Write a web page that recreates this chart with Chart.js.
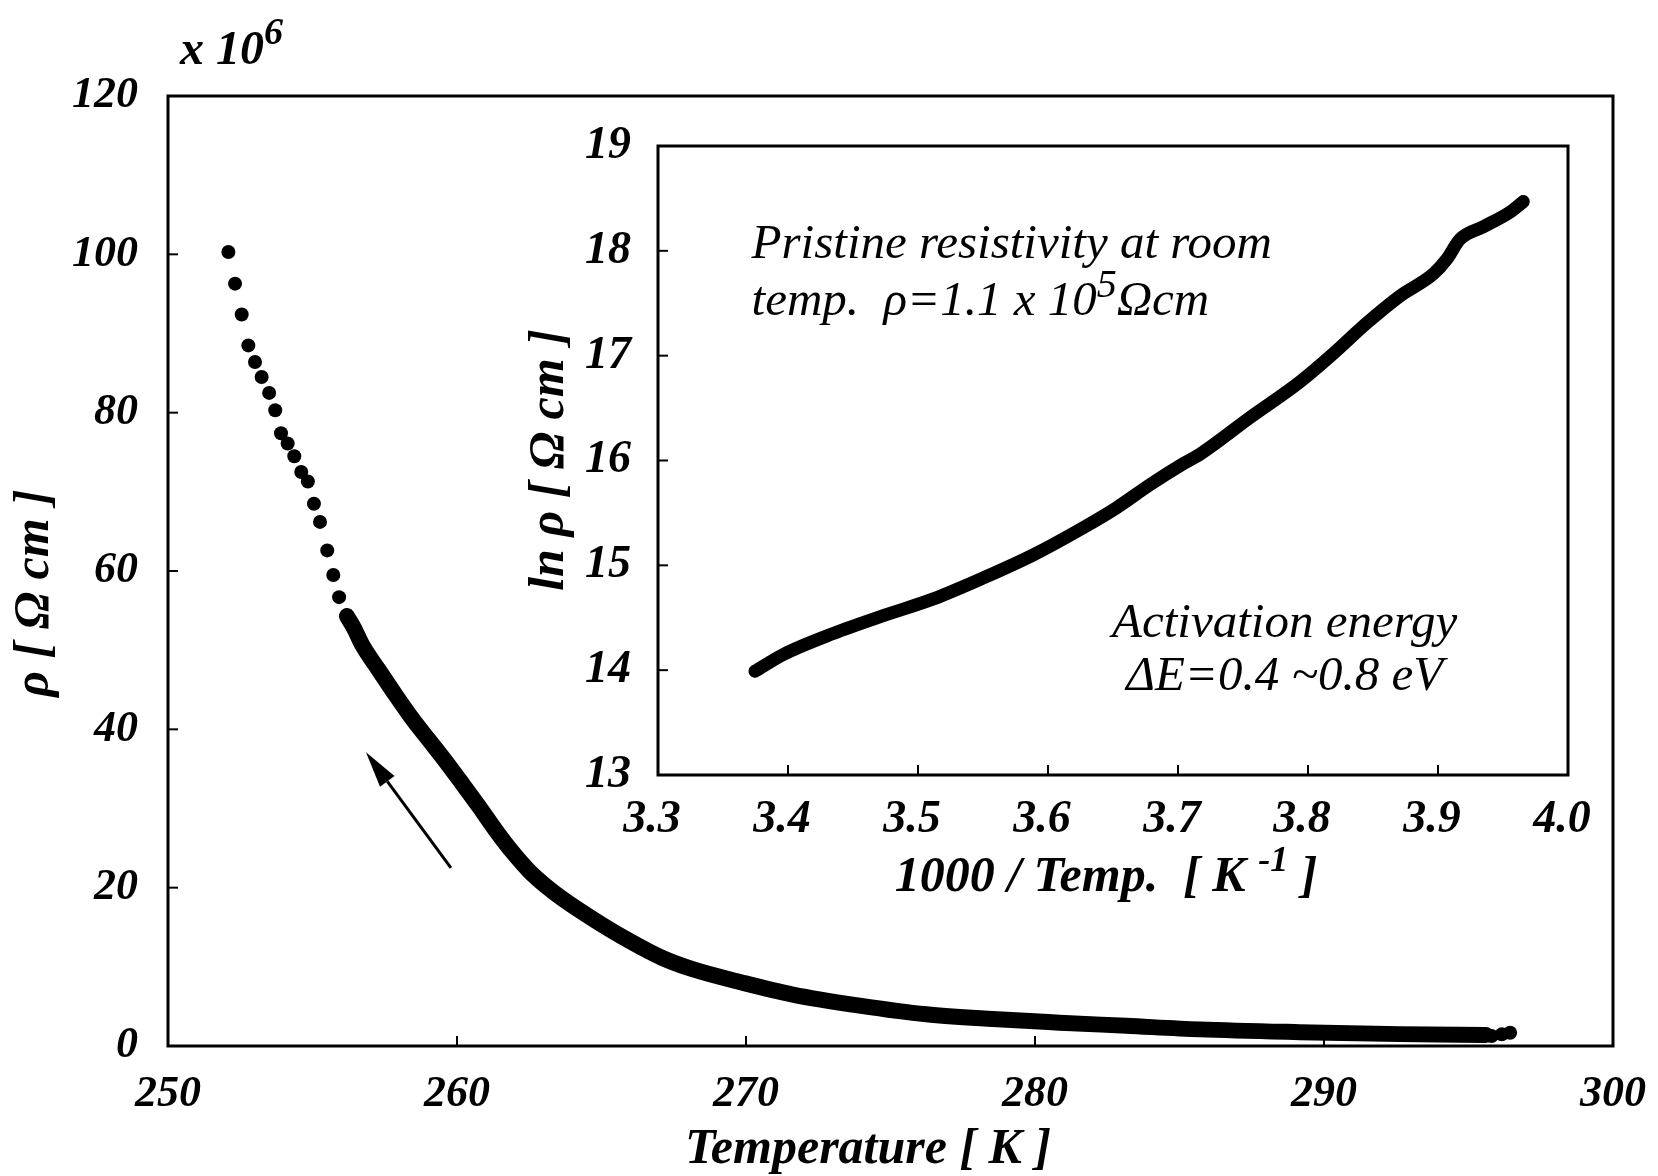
<!DOCTYPE html>
<html>
<head>
<meta charset="utf-8">
<script src="https://cdn.jsdelivr.net/npm/chart.js"></script>
<style>
  html, body { margin: 0; background: #fff; overflow: hidden; }
  #wrap { position: relative; width: 1658px; height: 1176px; overflow: hidden; }
  #mainChart { position: absolute; left: 0; top: 0; }
  #insetChart { position: absolute; left: 520px; top: 78px; }
</style>
</head>
<body>
<div id="wrap">
  <canvas id="mainChart" width="1700" height="1176"></canvas>
  <canvas id="insetChart" width="1117" height="832"></canvas>
</div>
<script>
// main plot: rho (x 10^6 ohm cm) against temperature
const dotTemp = [252.09, 252.32, 252.55, 252.78, 253.01, 253.24, 253.50, 253.71, 253.91, 254.14,
                 254.37, 254.61, 254.84, 255.05, 255.26, 255.51, 255.72, 255.92, 256.19,
                 295.80, 296.15, 296.44];
const dotRho = [100.3, 96.3, 92.4, 88.5, 86.4, 84.5, 82.5, 80.3, 77.4, 76.1,
                74.5, 72.5, 71.3, 68.5, 66.2, 62.6, 59.5, 56.7, 54.3,
                1.26, 1.47, 1.68];
// dense part of the run, where the dots merge into a band
const bandTemp = [256.19, 256.42, 256.73, 257.31, 257.88, 258.46, 259.04, 259.62, 260.19, 260.77,
                  261.35, 261.92, 262.50, 263.08, 263.65, 264.81, 265.96, 267.12, 268.15, 269.88,
                  271.62, 273.93, 276.24, 278.54, 280.85, 283.16, 285.70, 289.16, 292.62, 295.60];
const bandRho = [54.3, 52.9, 50.6, 47.4, 44.3, 41.3, 38.6, 35.9, 33.1, 30.2,
                 27.2, 24.5, 22.1, 20.2, 18.6, 15.8, 13.3, 11.1, 9.7, 8.0,
                 6.5, 5.1, 4.0, 3.4, 2.95, 2.55, 2.1, 1.75, 1.5, 1.4];
const mainXTicks = [250, 260, 270, 280, 290, 300];
const mainYTicks = [0, 20, 40, 60, 80, 100, 120];
// arrow: tail -> head, in data units
const arrowTemp = [259.79, 256.85];
const arrowRho = [22.5, 37.1];

// inset: ln rho against 1000/T
const invTemp = [3.3746, 3.3964, 3.4348, 3.4733, 3.5118, 3.5502, 3.5887, 3.6272, 3.6528, 3.6785,
                 3.7041, 3.7169, 3.7554, 3.7938, 3.8195, 3.8451, 3.8708, 3.8964, 3.9067, 3.9169,
                 3.9349, 3.9554, 3.9656];
const lnRho = [13.99, 14.15, 14.35, 14.52, 14.68, 14.88, 15.10, 15.36, 15.55, 15.77,
               15.97, 16.06, 16.41, 16.75, 17.02, 17.31, 17.57, 17.78, 17.92, 18.11,
               18.23, 18.37, 18.47];
const insetXTicks = [3.3, 3.4, 3.5, 3.6, 3.7, 3.8, 3.9, 4.0];
const insetXLabels = ['3.3', '3.4', '3.5', '3.6', '3.7', '3.8', '3.9', '4.0'];
const insetYTicks = [13, 14, 15, 16, 17, 18, 19];

const serif = '"Liberation Serif", "Times New Roman", serif';
const mainTickFont = { family: serif, size: 44, style: 'italic', weight: 'bold' };
const insetTickFont = { family: serif, size: 46, style: 'italic', weight: 'bold' };
const titleFont = 'italic bold 50px ' + serif;
const noteFont = 'italic 49px ' + serif;

function pts(xs, ys) {
    return xs.map((x, i) => ({ x: x, y: ys[i] }));
}

// draws a row of text pieces; raised pieces use 'rise'
function drawRun(ctx, pieces, x, y, align) {
    let total = 0;
    pieces.forEach(p => { ctx.font = p.font; total += ctx.measureText(p.text).width; });
    let cx = align === 'center' ? x - total / 2 : (align === 'right' ? x - total : x);
    ctx.textAlign = 'left';
    ctx.textBaseline = 'alphabetic';
    pieces.forEach(p => {
        ctx.font = p.font;
        ctx.fillText(p.text, cx, y - (p.rise || 0));
        cx += ctx.measureText(p.text).width;
    });
}

// box around the plot area with the small inward tick marks
function boxPlugin(xTicks, yTicks, tickLen) {
    return {
        id: 'box',
        beforeDatasetsDraw(chart) {
            const ctx = chart.ctx;
            const a = chart.chartArea;
            const xs = chart.scales.x, ys = chart.scales.y;
            ctx.save();
            ctx.strokeStyle = '#000';
            ctx.lineWidth = 3;
            ctx.strokeRect(a.left, a.top, a.right - a.left, a.bottom - a.top);
            ctx.lineWidth = 2;
            xTicks.forEach(v => {
                const px = xs.getPixelForValue(v);
                ctx.beginPath();
                ctx.moveTo(px, a.bottom);
                ctx.lineTo(px, a.bottom - tickLen);
                ctx.stroke();
            });
            yTicks.forEach(v => {
                const py = ys.getPixelForValue(v);
                ctx.beginPath();
                ctx.moveTo(a.left, py);
                ctx.lineTo(a.left + tickLen, py);
                ctx.stroke();
            });
            ctx.restore();
        }
    };
}

const mainText = {
    id: 'mainText',
    afterDraw(chart) {
        const ctx = chart.ctx;
        const xs = chart.scales.x, ys = chart.scales.y;
        ctx.save();
        ctx.fillStyle = '#000';
        ctx.strokeStyle = '#000';

        // arrow
        const x0 = xs.getPixelForValue(arrowTemp[0]), y0 = ys.getPixelForValue(arrowRho[0]);
        const x1 = xs.getPixelForValue(arrowTemp[1]), y1 = ys.getPixelForValue(arrowRho[1]);
        const ang = Math.atan2(y1 - y0, x1 - x0);
        const headLen = 36, headHalf = 9;
        const bx = x1 - headLen * Math.cos(ang), by = y1 - headLen * Math.sin(ang);
        ctx.lineWidth = 3;
        ctx.beginPath();
        ctx.moveTo(x0, y0);
        ctx.lineTo(bx, by);
        ctx.stroke();
        ctx.beginPath();
        ctx.moveTo(x1, y1);
        ctx.lineTo(bx + headHalf * Math.sin(ang), by - headHalf * Math.cos(ang));
        ctx.lineTo(bx - headHalf * Math.sin(ang), by + headHalf * Math.cos(ang));
        ctx.closePath();
        ctx.fill();

        // multiplier above the y axis
        drawRun(ctx, [
            { text: 'x 10', font: 'italic bold 48px ' + serif },
            { text: '6', font: 'italic bold 38px ' + serif, rise: 20 }
        ], 180, 64, 'left');

        // axis titles
        drawRun(ctx, [{ text: 'Temperature [ K ]', font: titleFont }], 868, 1163, 'center');
        ctx.translate(48, 593);
        ctx.rotate(-Math.PI / 2);
        drawRun(ctx, [{ text: 'ρ [ Ω cm ]', font: titleFont }], 0, 0, 'center');
        ctx.restore();
    }
};

// inset canvas sits at page (520, 78); text positions below are canvas-local
const insetText = {
    id: 'insetText',
    afterDraw(chart) {
        const ctx = chart.ctx;
        const xs = chart.scales.x, ys = chart.scales.y;
        ctx.save();
        ctx.fillStyle = '#000';

        const lx = xs.getPixelForValue(3.372);
        drawRun(ctx, [{ text: 'Pristine resistivity at room', font: noteFont }],
            lx, ys.getPixelForValue(17.93), 'left');
        drawRun(ctx, [
            { text: 'temp.  ρ=1.1 x 10', font: noteFont },
            { text: '5', font: 'italic 40px ' + serif, rise: 18 },
            { text: 'Ωcm', font: noteFont }
        ], lx, ys.getPixelForValue(17.39), 'left');

        const cx = xs.getPixelForValue(3.782);
        drawRun(ctx, [{ text: 'Activation energy', font: noteFont }], cx, ys.getPixelForValue(14.32), 'center');
        drawRun(ctx, [{ text: 'ΔE=0.4 ~0.8 eV', font: noteFont }], cx, ys.getPixelForValue(13.81), 'center');

        // axis titles
        drawRun(ctx, [
            { text: '1000 / Temp.  [ K ', font: titleFont },
            { text: '-1', font: 'italic bold 36px ' + serif, rise: 20 },
            { text: ' ]', font: titleFont }
        ], 586, 813, 'center');
        ctx.translate(43, 382);
        ctx.rotate(-Math.PI / 2);
        drawRun(ctx, [{ text: 'ln ρ [ Ω cm ]', font: titleFont }], 0, 0, 'center');
        ctx.restore();
    }
};

function axis(min, max, tickValues, labels, fit, key, font, padding, labelOffset) {
    return {
        type: 'linear',
        min: min,
        max: max,
        afterBuildTicks: s => { s.ticks = tickValues.map(v => ({ value: v })); },
        afterFit: s => { if (key === 'x') { s.height = fit.x; } else { s.width = fit.y; } },
        grid: { display: false, drawTicks: false },
        border: { display: false },
        ticks: {
            color: '#000',
            font: font,
            padding: padding,
            labelOffset: labelOffset || 0,
            autoSkip: false,
            maxRotation: 0,
            callback: (v, i) => labels ? labels[i] : String(v)
        }
    };
}

// nudge paddings until the plot area sits where it does in the figure
function placeArea(chart, target, pad, fit) {
    for (let k = 0; k < 4; k++) {
        const a = chart.chartArea;
        const dl = target.left - a.left, dt = target.top - a.top;
        const dr = a.right - target.right, db = a.bottom - target.bottom;
        if (Math.abs(dl) + Math.abs(dt) + Math.abs(dr) + Math.abs(db) < 0.5) break;
        fit.y += dl;
        fit.x += db;
        pad.top += dt;
        pad.right += dr;
        chart.update();
    }
}

const mainPad = { top: 96, right: 87, left: 0, bottom: 0 };
const mainFit = { x: 130, y: 168 };
const mainChart = new Chart(document.getElementById('mainChart'), {
    type: 'scatter',
    data: {
        datasets: [
            {
                data: pts(bandTemp, bandRho),
                showLine: true,
                borderColor: '#000',
                borderWidth: 16,
                borderCapStyle: 'round',
                borderJoinStyle: 'round',
                cubicInterpolationMode: 'monotone',
                pointRadius: 0,
                clip: false
            },
            {
                data: pts(dotTemp, dotRho),
                showLine: false,
                pointRadius: 7,
                pointBackgroundColor: '#000',
                pointBorderWidth: 0,
                clip: false
            }
        ]
    },
    options: {
        responsive: false,
        animation: false,
        devicePixelRatio: 1,
        layout: { padding: mainPad },
        plugins: { legend: { display: false }, tooltip: { enabled: false } },
        scales: {
            x: axis(250, 300, mainXTicks, null, mainFit, 'x', mainTickFont, 22),
            y: axis(0, 120, mainYTicks, null, mainFit, 'y', mainTickFont, 30)
        }
    },
    plugins: [boxPlugin(mainXTicks.slice(1, -1), mainYTicks.slice(1, -1), 10), mainText]
});
placeArea(mainChart, { left: 168, top: 96, right: 1613, bottom: 1046 }, mainPad, mainFit);

const insetPad = { top: 68, right: 70, left: 0, bottom: 0 };
const insetFit = { x: 138, y: 138 };
const insetChart = new Chart(document.getElementById('insetChart'), {
    type: 'scatter',
    data: {
        datasets: [{
            data: pts(invTemp, lnRho),
            showLine: true,
            borderColor: '#000',
            borderWidth: 13,
            borderCapStyle: 'round',
            borderJoinStyle: 'round',
            cubicInterpolationMode: 'monotone',
            pointRadius: 0,
            clip: false
        }]
    },
    options: {
        responsive: false,
        animation: false,
        devicePixelRatio: 1,
        layout: { padding: insetPad },
        plugins: { legend: { display: false }, tooltip: { enabled: false } },
        scales: {
            x: axis(3.3, 4.0, insetXTicks, insetXLabels, insetFit, 'x', insetTickFont, 18, -6),
            y: axis(13, 19, insetYTicks, null, insetFit, 'y', insetTickFont, 27)
        }
    },
    plugins: [boxPlugin(insetXTicks.slice(1, -1), insetYTicks.slice(1, -1), 10), insetText]
});
placeArea(insetChart, { left: 138, top: 68, right: 1048, bottom: 697 }, insetPad, insetFit);
</script>
</body>
</html>
